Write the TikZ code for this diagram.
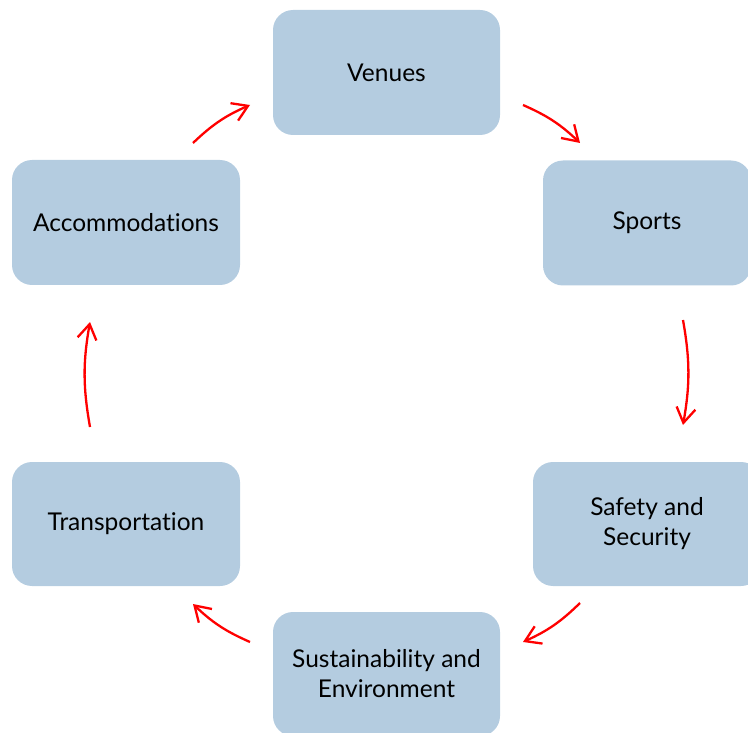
\documentclass[tikz,border=0pt]{standalone}
\usepackage{fontspec}
\setmainfont[Ligatures=NoCommon]{Lato}
\usetikzlibrary{arrows.meta}
\definecolor{boxblue}{HTML}{B4CCE0}
\definecolor{arrred}{HTML}{FF0000}
\begin{document}
\begin{tikzpicture}[x=1pt,y=-1pt,
  box/.style={draw=none, fill=boxblue, rounded corners=20pt, align=center,
    font=\fontsize{24.5}{30}\selectfont, inner sep=0pt, text=black},
  cyc/.style={draw=arrred, line width=2.3pt,
    -{Straight Barb[length=15pt,width=19pt,line width=2.3pt]}, bend left=10}]
\useasboundingbox (0,0) rectangle (748,733);
\clip (0,0) rectangle (748,733);
\node[box, minimum width=227pt, minimum height=125pt] (venues) at (386.5,72.5) {Venues};
\node[box, minimum width=208pt, minimum height=125pt] (sports) at (647,223) {Sports};
\node[box, minimum width=228pt, minimum height=124pt] (safety) at (647,524) {Safety and\\Security};
\node[box, minimum width=227pt, minimum height=124pt] (sust) at (386.5,674) {Sustainability and\\Environment};
\node[box, minimum width=228pt, minimum height=124pt] (trans) at (126,524) {Transportation};
\node[box, minimum width=228pt, minimum height=125pt] (accom) at (126,222.5) {Accommodations};
\coordinate (a1s) at (523,105); \coordinate (a1e) at (580,143);
\coordinate (a2s) at (683,320); \coordinate (a2e) at (683,425);
\coordinate (a3s) at (580,603); \coordinate (a3e) at (523,642);
\coordinate (a4s) at (250,642); \coordinate (a4e) at (193,604);
\coordinate (a5s) at (90,427); \coordinate (a5e) at (90,322);
\coordinate (a6s) at (193,143); \coordinate (a6e) at (250,105);
\draw[cyc] (a1s) to (a1e);
\draw[cyc] (a2s) to (a2e);
\draw[cyc] (a3s) to (a3e);
\draw[cyc] (a4s) to (a4e);
\draw[cyc] (a5s) to (a5e);
\draw[cyc] (a6s) to (a6e);
\end{tikzpicture}
\end{document}
